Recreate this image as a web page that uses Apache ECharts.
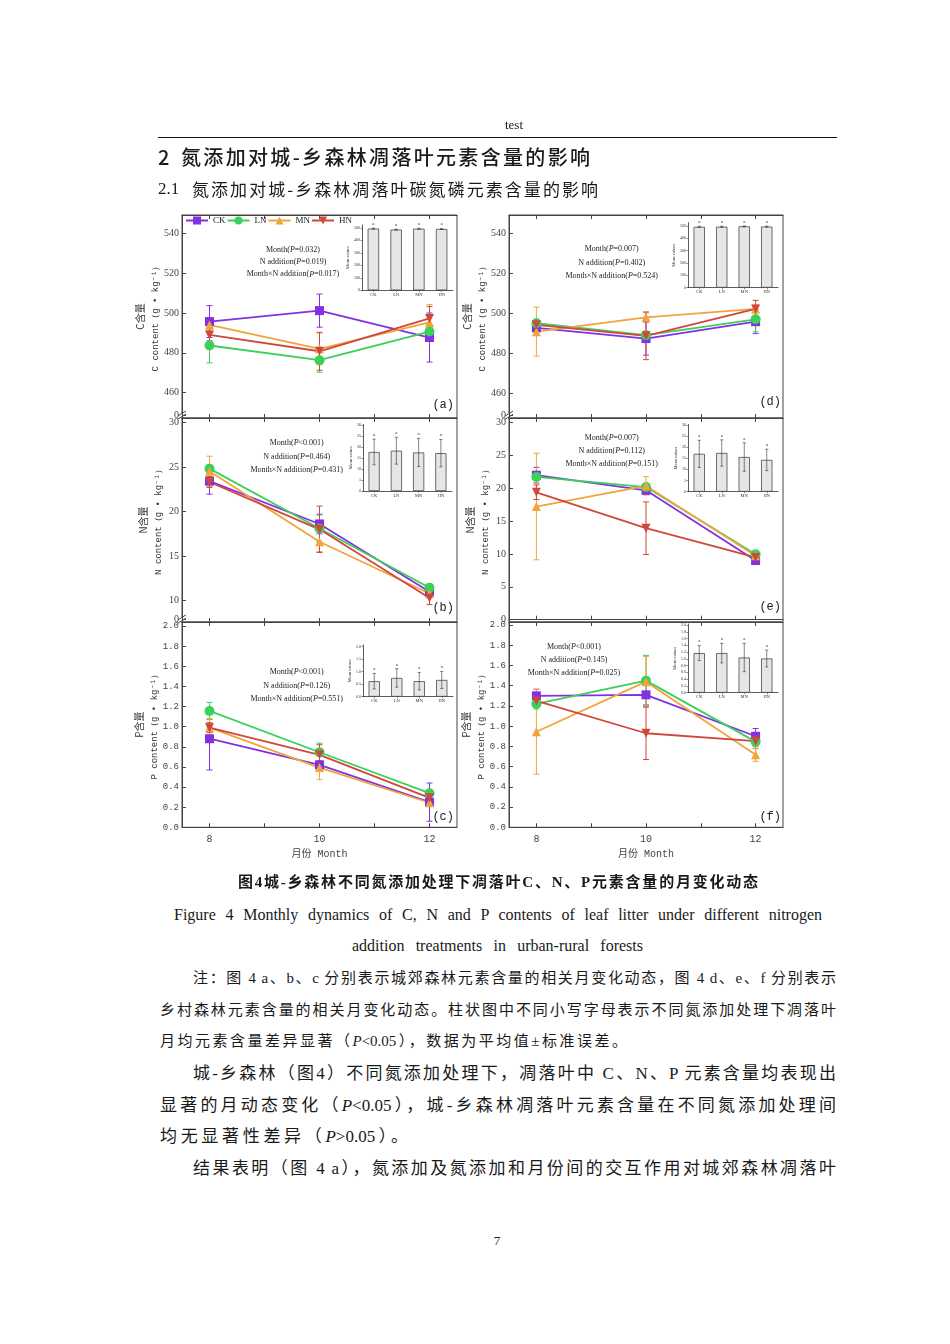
<!DOCTYPE html>
<html>
<head>
<meta charset="utf-8">
<script src="https://cdn.jsdelivr.net/npm/echarts@6/dist/echarts.min.js"></script>
<style>
  html, body { margin: 0; padding: 0; background: #fff; }
  #page { position: relative; width: 950px; height: 1344px; overflow: hidden;
          font-family: "Liberation Serif", "Noto Sans CJK SC", serif; color: #1a1a1a; }
  #chart { position: absolute; left: 0; top: 0; width: 950px; height: 880px; }
  .t { position: absolute; white-space: nowrap; }
  .j { text-align: justify; text-align-last: justify; }
</style>
</head>
<body>
<div id="page">
  <div id="chart"></div>

  <div class="t" style="left:0;width:1028px;text-align:center;top:117px;font-size:13px;line-height:16px">test</div>
  <div style="position:absolute;left:158px;top:137px;width:679px;height:1.4px;background:#111"></div>

  <div class="t" style="left:158px;top:145px;font-size:20px;line-height:24px;font-family:'Noto Sans CJK SC';font-weight:500">2</div>
  <div class="t j" style="left:181px;width:409px;top:145px;font-size:20px;line-height:24px;font-family:'Noto Sans CJK SC';font-weight:500">氮添加对城-乡森林凋落叶元素含量的影响</div>

  <div class="t" style="left:158px;top:178px;font-size:17px;line-height:22px">2.1</div>
  <div class="t j" style="left:192px;width:406px;top:178px;font-size:17px;line-height:22px;font-family:'Noto Sans CJK SC'">氮添加对城-乡森林凋落叶碳氮磷元素含量的影响</div>

  <div class="t j" style="left:238px;width:520px;top:872px;font-size:15px;line-height:20px;font-weight:bold">图4城-乡森林不同氮添加处理下凋落叶C、N、P元素含量的月变化动态</div>
  <div class="t j" style="left:174px;width:648px;top:905px;font-size:16px;line-height:20px">Figure 4 Monthly dynamics of C, N and P contents of leaf litter under different nitrogen</div>
  <div class="t j" style="left:352px;width:291px;top:936px;font-size:16px;line-height:20px">addition treatments in urban-rural forests</div>

  <div class="t j" style="left:193px;width:643px;top:968px;font-size:15px;line-height:20px">注：图 4 a、b、c 分别表示城郊森林元素含量的相关月变化动态，图 4 d、e、f 分别表示</div>
  <div class="t j" style="left:160px;width:676px;top:1000px;font-size:15px;line-height:20px">乡村森林元素含量的相关月变化动态。柱状图中不同小写字母表示不同氮添加处理下凋落叶</div>
  <div class="t j" style="left:160px;width:467px;top:1031px;font-size:15px;line-height:20px">月均元素含量差异显著（<i>P</i>&lt;0.05），数据为平均值±标准误差。</div>

  <div class="t j" style="left:193px;width:643px;top:1063px;font-size:17px;line-height:22px">城-乡森林（图4）不同氮添加处理下，凋落叶中 C、N、P 元素含量均表现出</div>
  <div class="t j" style="left:160px;width:676px;top:1095px;font-size:17px;line-height:22px">显著的月动态变化（<i>P</i>&lt;0.05），城-乡森林凋落叶元素含量在不同氮添加处理间</div>
  <div class="t j" style="left:160px;width:248px;top:1126px;font-size:17px;line-height:22px">均无显著性差异（<i>P</i>&gt;0.05）。</div>
  <div class="t j" style="left:193px;width:643px;top:1158px;font-size:17px;line-height:22px">结果表明（图 4 a），氮添加及氮添加和月份间的交互作用对城郊森林凋落叶</div>

  <div class="t" style="left:0;width:994px;text-align:center;top:1233px;font-size:13px;line-height:16px">7</div>
</div>

<script>
// 月份与处理
const months = [8, 10, 12];
const monthTicks = [8, 9, 10, 11, 12];
const treatments = ['CK', 'LN', 'MN', 'HN'];

// 城郊森林 C（a），每行一个处理：CK, LN, MN, HN
const meanA = [[495.7, 501.2, 487.7], [483.7, 476.3, 490.7], [494.0, 482.0, 495.3], [489.0, 480.8, 497.3]];
const errA = [[8.0, 8.3, 12.3], [8.7, 6.0, 2.0], [3.0, 8.0, 9.0], [3.0, 9.5, 6.0]];
// 城郊森林 N（b）
const meanB = [[23.4, 18.6, 11.0], [24.8, 18.1, 11.45], [24.5, 16.6, 10.8], [23.3, 18.0, 10.3]];
const errB = [[1.46, 1.1, 0.5], [0.4, 1.5, 0.4], [1.7, 1.1, 0.5], [0.6, 2.6, 0.74]];
// 城郊森林 P（c）
const meanC = [[0.88, 0.62, 0.25], [1.156, 0.746, 0.339], [0.99, 0.593, 0.244], [0.99, 0.72, 0.293]];
const errC = [[0.31, 0.04, 0.19], [0.085, 0.09, 0.03], [0.09, 0.12, 0.03], [0.05, 0.1, 0.03]];
// 乡村森林 C（d）
const meanD = [[492.7, 487.3, 495.8], [495.0, 489.0, 497.0], [490.8, 498.0, 502.2], [494.2, 488.7, 502.2]];
const errD = [[2.0, 8.3, 6.0], [2.0, 2.0, 6.3], [12.3, 2.3, 2.0], [2.0, 12.0, 4.3]];
// 乡村森林 N（e）
const meanE = [[21.96, 19.66, 9.0], [21.7, 20.15, 9.95], [17.2, 20.34, 9.7], [19.36, 13.9, 9.46]];
const errE = [[1.2, 0.5, 0.4], [0.5, 0.5, 0.4], [8.1, 1.4, 0.8], [1.1, 4.0, 0.5]];
// 乡村森林 P（f）
const meanF = [[1.30, 1.31, 0.90], [1.22, 1.45, 0.847], [0.945, 1.44, 0.717], [1.25, 0.93, 0.853]];
const errF = [[0.065, 0.1, 0.077], [0.05, 0.25, 0.07], [0.42, 0.25, 0.065], [0.05, 0.26, 0.05]];

// 插图柱状图：各处理月均值 ± 误差
const barA = [495, 487, 494, 492], barErrA = [4, 4, 4, 4];
const barB = [17.7, 18.3, 17.5, 17.2], barErrB = [5.8, 6.1, 6.4, 6.2];
const barC = [0.62, 0.75, 0.62, 0.67], barErrC = [0.31, 0.37, 0.35, 0.34];
const barD = [493, 494, 497, 495], barErrD = [5, 4, 4, 4];
const barE = [17.0, 17.4, 15.6, 14.3], barErrE = [6.1, 5.9, 6.4, 4.8];
const barF = [1.17, 1.17, 1.04, 1.01], barErrF = [0.22, 0.29, 0.42, 0.25];
const barLetters = ['a', 'a', 'a', 'a'];

// 显著性
const pA = ['=0.032', '=0.019', '=0.017'];
const pB = ['<0.001', '=0.464', '=0.431'];
const pC = ['<0.001', '=0.126', '=0.551'];
const pD = ['=0.007', '=0.402', '=0.524'];
const pE = ['=0.007', '=0.112', '=0.151'];
const pF = ['<0.001', '=0.145', '=0.025'];

// 刻度标签
const ticksCarbon = [448.8, 460, 480, 500, 520, 540];
const ticksNUrban = [7.95, 10, 15, 20, 25, 30];
const ticksNRural = [0, 5, 10, 15, 20, 25, 30];
const ticksP = [0, 0.2, 0.4, 0.6, 0.8, 1.0, 1.2, 1.4, 1.6, 1.8, 2.0];
const insetTicksC = [0, 100, 200, 300, 400, 500];
const insetTicksN = [0, 5, 10, 15, 20, 25, 30];
const insetTicksPu = [0, 0.5, 1.0, 1.5, 2.0];
const insetTicksPr = [0, 0.2, 0.4, 0.6, 0.8, 1.0, 1.2, 1.4, 1.6, 1.8, 2.0];

const SERIF = "'Liberation Serif','Times New Roman',serif";
const MONO = "'Liberation Mono','DejaVu Sans Mono',monospace";
const CJK = "'Noto Sans CJK SC',sans-serif";
const colors = ['#8330e0', '#3ccf5a', '#f0a53c', '#d0473b'];
const symbols = ['rect', 'circle', 'triangle', 'path://M0,0L10,0L5,9Z'];
const AX = '#444';

const zeroFmt = (th) => (v) => (v < th ? '0' : String(v));
const fix1 = (v) => v.toFixed(1);

const panels = [
  { tag: '(a)', el: 'C', mean: meanA, err: errA, bar: barA, barErr: barErrA, pv: pA,
    grid: [182, 215, 275, 203], y: [447.3, 549.2], ticks: ticksCarbon, fmt: zeroFmt(450), brk: 448.8,
    inset: [362, 225, 91, 65.3], insetMax: 524, insetTicks: insetTicksC, insetFmt: String,
    note: [293, 250, 12.2], tagPos: [454, 405], mono: false },
  { tag: '(b)', el: 'N', mean: meanB, err: errB, bar: barB, barErr: barErrB, pv: pB,
    grid: [182, 418, 275, 204], y: [7.61, 30.48], ticks: ticksNUrban, fmt: zeroFmt(9), brk: 7.95,
    inset: [363, 424.5, 89, 66.5], insetMax: 30.2, insetTicks: insetTicksN, insetFmt: String,
    note: [296.7, 443.3, 13.3], tagPos: [454, 608], mono: false },
  { tag: '(c)', el: 'P', mean: meanC, err: errC, bar: barC, barErr: barErrC, pv: pC,
    grid: [182, 622, 275, 205.3], y: [0, 2.04], ticks: ticksP, fmt: fix1, brk: null,
    inset: [363, 645, 90, 51.7], insetMax: 2.068, insetTicks: insetTicksPu, insetFmt: fix1,
    note: [296.7, 672.3, 13.5], tagPos: [454, 817], mono: true, bottom: true },
  { tag: '(d)', el: 'C', mean: meanD, err: errD, bar: barD, barErr: barErrD, pv: pD,
    grid: [509, 215, 274, 203], y: [447.4, 549.4], ticks: ticksCarbon, fmt: zeroFmt(450), brk: 448.8,
    inset: [688, 222.7, 90, 65], insetMax: 526.7, insetTicks: insetTicksC, insetFmt: String,
    note: [611.7, 249.3, 13.2], tagPos: [781, 402], mono: false },
  { tag: '(e)', el: 'N', mean: meanE, err: errE, bar: barE, barErr: barErrE, pv: pE,
    grid: [509, 418, 274, 204], y: [-0.35, 30.65], ticks: ticksNRural, fmt: String, brk: null,
    inset: [688, 424.5, 90, 67.2], insetMax: 30.2, insetTicks: insetTicksN, insetFmt: String,
    note: [611.7, 437.7, 13.3], tagPos: [781, 607], mono: false },
  { tag: '(f)', el: 'P', mean: meanF, err: errF, bar: barF, barErr: barErrF, pv: pF,
    grid: [509, 622, 274, 205.3], y: [0, 2.03], ticks: ticksP, fmt: fix1, brk: null,
    inset: [688, 624, 90, 68.7], insetMax: 2.03, insetTicks: insetTicksPr, insetFmt: fix1,
    note: [574, 646.7, 13.3], tagPos: [781, 817], mono: true, bottom: true },
];

function errorBar(color, cap, letters) {
  return function (params, api) {
    const x = api.value(0);
    const lo = api.coord([x, api.value(1)]);
    const hi = api.coord([x, api.value(2)]);
    const st = { stroke: color, lineWidth: letters ? 0.6 : 1 };
    const kids = [
      { type: 'line', shape: { x1: lo[0], y1: lo[1], x2: hi[0], y2: hi[1] }, style: st },
      { type: 'line', shape: { x1: lo[0] - cap, y1: lo[1], x2: lo[0] + cap, y2: lo[1] }, style: st },
      { type: 'line', shape: { x1: hi[0] - cap, y1: hi[1], x2: hi[0] + cap, y2: hi[1] }, style: st },
    ];
    if (letters) {
      kids.push({ type: 'text', style: { text: letters[params.dataIndex], x: hi[0], y: hi[1] - 2,
        align: 'center', verticalAlign: 'bottom', fontSize: 5, fontFamily: SERIF, fill: '#333' } });
    }
    return { type: 'group', children: kids };
  };
}

const grid = [], xAxis = [], yAxis = [], series = [];

panels.forEach((p, i) => {
  grid[i] = { left: p.grid[0], top: p.grid[1], width: p.grid[2], height: p.grid[3],
    show: true, borderColor: AX, borderWidth: 1, backgroundColor: 'transparent', outerBoundsMode: 'none' };
  grid[6 + i] = { left: p.inset[0], top: p.inset[1], width: p.inset[2], height: p.inset[3], outerBoundsMode: 'none' };

  const labelFont = p.mono ? { fontFamily: MONO, fontSize: 9 } : { fontFamily: SERIF, fontSize: 10 };

  xAxis[i] = {
    gridIndex: i, type: 'value', min: 7.5, max: 12.5, position: 'bottom',
    axisLine: { show: true, lineStyle: { color: AX } },
    axisTick: { show: true, inside: true, length: 4, customValues: monthTicks, lineStyle: { color: AX } },
    axisLabel: { show: !!p.bottom, customValues: months, margin: 7, fontFamily: MONO, fontSize: 10, color: AX },
    splitLine: { show: false },
    name: p.bottom ? '月份 Month' : '', nameLocation: 'middle', nameGap: 22,
    nameTextStyle: { fontFamily: "'Liberation Mono','Noto Sans CJK SC',monospace", fontSize: 10, color: AX },
  };
  xAxis[6 + i] = {
    gridIndex: i, type: 'value', min: 7.5, max: 12.5, position: 'top',
    axisLine: { show: true, lineStyle: { color: AX } },
    axisTick: { show: true, inside: true, length: 4, customValues: monthTicks, lineStyle: { color: AX } },
    axisLabel: { show: false }, splitLine: { show: false },
  };
  xAxis[12 + i] = {
    gridIndex: 6 + i, type: 'category', data: treatments,
    axisLine: { lineStyle: { color: '#333', width: 0.8 } },
    axisTick: { show: true, length: 1.5, alignWithLabel: true, lineStyle: { color: '#333', width: 0.6 } },
    axisLabel: { fontSize: 4.5, margin: 2, color: '#333', fontFamily: SERIF },
  };

  yAxis[i] = {
    gridIndex: i, type: 'value', min: p.y[0], max: p.y[1],
    axisLine: { show: true, lineStyle: { color: AX } },
    axisTick: { show: true, inside: true, length: 4, customValues: p.ticks, lineStyle: { color: AX } },
    axisLabel: Object.assign({ customValues: p.ticks, formatter: p.fmt, margin: 3, color: AX }, labelFont),
    splitLine: { show: false },
    name: '{cn|' + p.el + '含量}\n{en|' + p.el + ' content（g • kg⁻¹）}',
    nameLocation: 'middle', nameRotate: 90, nameGap: 16,
    nameTextStyle: { color: '#333', rich: {
      cn: { fontFamily: CJK, fontSize: 10, lineHeight: 15, color: '#333' },
      en: { fontFamily: MONO, fontSize: 9, lineHeight: 15, color: '#333' } } },
  };
  yAxis[6 + i] = {
    gridIndex: 6 + i, type: 'value', min: 0, max: p.insetMax,
    axisLine: { show: true, lineStyle: { color: '#333', width: 0.8 } },
    axisTick: { show: true, length: 1.5, customValues: p.insetTicks, lineStyle: { color: '#333', width: 0.6 } },
    axisLabel: { customValues: p.insetTicks, formatter: p.insetFmt, fontSize: 4, margin: 2, color: '#333', fontFamily: SERIF },
    splitLine: { show: false },
    name: 'Mean values', nameLocation: 'middle', nameRotate: 90, nameGap: 10,
    nameTextStyle: { fontSize: 4.5, fontFamily: SERIF, color: '#333' },
  };

  // 误差线在下，折线在上
  treatments.forEach((t, k) => {
    series.push({
      type: 'custom', xAxisIndex: i, yAxisIndex: i, silent: true, z: 2,
      renderItem: errorBar(colors[k], 3),
      encode: { x: 0, y: [1, 2] },
      data: months.map((m, j) => [m, p.mean[k][j] - p.err[k][j], p.mean[k][j] + p.err[k][j]]),
    });
  });
  treatments.forEach((t, k) => {
    series.push({
      type: 'line', name: t, xAxisIndex: i, yAxisIndex: i, z: 3,
      data: months.map((m, j) => [m, p.mean[k][j]]),
      symbol: symbols[k], symbolSize: k === 1 ? 10 : 9,
      lineStyle: { color: colors[k], width: 1.8 },
      itemStyle: { color: colors[k] },
    });
  });

  series.push({
    type: 'bar', xAxisIndex: 12 + i, yAxisIndex: 6 + i, silent: true, barWidth: '50%',
    itemStyle: { color: '#e6e6e6', borderColor: '#333', borderWidth: 0.7 },
    data: p.bar,
  });
  series.push({
    type: 'custom', xAxisIndex: 12 + i, yAxisIndex: 6 + i, silent: true, z: 4,
    renderItem: errorBar('#333', 1.6, barLetters),
    encode: { x: 0, y: [1, 2] },
    data: p.bar.map((v, j) => [j, v - p.barErr[j], v + p.barErr[j]]),
  });
});

const chart = echarts.init(document.getElementById('chart'));
chart.setOption({
  animation: false,
  backgroundColor: 'transparent',
  grid, xAxis, yAxis, series,
  legend: {
    left: 185, top: 216, padding: 0, itemWidth: 22, itemHeight: 10, itemGap: 1,
    data: treatments,
    textStyle: { fontFamily: SERIF, fontSize: 9, color: '#222' },
  },
});

// 注释文字、面板编号、断轴符号
const graphic = [];
const noteRich = { i: { fontStyle: 'italic', fontFamily: SERIF, fontSize: 8, fill: '#222' } };
panels.forEach((p, i) => {
  const lines = ['Month({i|P}' + p.pv[0] + ')', 'N addition({i|P}' + p.pv[1] + ')', 'Month×N addition({i|P}' + p.pv[2] + ')'];
  lines.forEach((s, j) => {
    graphic.push({ type: 'text', x: p.note[0], y: p.note[1] + j * p.note[2], silent: true,
      style: { text: s, rich: noteRich, fontFamily: SERIF, fontSize: 8, fill: '#222', align: 'center', verticalAlign: 'middle' } });
  });
  graphic.push({ type: 'text', x: p.tagPos[0], y: p.tagPos[1], silent: true,
    style: { text: p.tag, fontFamily: MONO, fontSize: 12, fill: '#222', align: 'right', verticalAlign: 'middle' } });
  if (p.brk !== null) {
    const pt = chart.convertToPixel({ gridIndex: i }, [7.5, p.brk]);
    const x = pt[0], y = pt[1];
    graphic.push({ type: 'rect', silent: true, shape: { x: x - 1.5, y: y - 1.5, width: 3, height: 3 }, style: { fill: '#fff' } });
    [-1.6, 1.6].forEach((d) => {
      graphic.push({ type: 'line', silent: true,
        shape: { x1: x - 4, y1: y + d + 2.5, x2: x + 4, y2: y + d - 2.5 }, style: { stroke: AX, lineWidth: 1 } });
    });
  }
});
chart.setOption({ graphic });
</script>
</body>
</html>
